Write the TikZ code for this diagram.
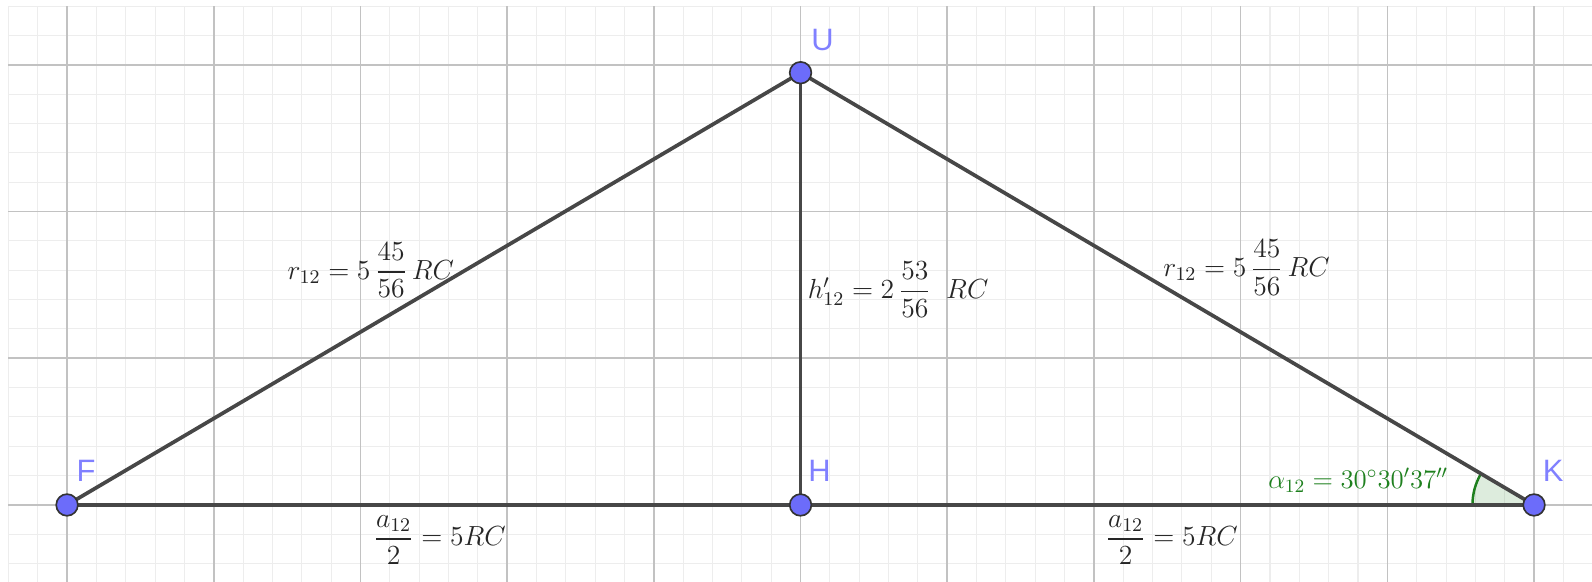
\RequirePackage{fix-cm}
\documentclass[tikz,border=0pt]{standalone}
\usepackage{amsmath}
\usepackage{fontspec}
\setsansfont{Liberation Sans}
\usepackage{tikz}
\usetikzlibrary{calc}

\definecolor{ptblue}{RGB}{108,108,250}
\definecolor{lblblue}{RGB}{128,128,255}
\definecolor{anggreen}{RGB}{30,128,30}

\begin{document}
\begin{tikzpicture}[
  x=2.5cm, y=2.5cm,
  minorgrid/.style={draw=black!7, line width=0.5pt},
  majorgrid/.style={draw=black!24, line width=0.8pt},
  seg/.style={draw=black!72, line width=1.8pt},
  pt/.style={circle, draw=black!80, fill=ptblue, line width=0.8pt,
             minimum size=10.5pt, inner sep=0pt},
  ptlabel/.style={text=lblblue, font=\sffamily\fontsize{15}{15}\selectfont},
  eqlabel/.style={text=black!85, font=\fontsize{13.4}{16}\selectfont},
  anglabel/.style={text=anggreen, font=\fontsize{13}{16}\selectfont}
]
  \useasboundingbox (-0.457,-0.525) rectangle (10.395,3.442);
  % grid
  \draw[minorgrid, step=0.2] (-0.401,-0.525) grid (10.395,3.401);
  \draw[majorgrid, step=1]   (-0.401,-0.525) grid (10.395,3.401);

  \coordinate (F) at (0,0);
  \coordinate (H) at (5,0);
  \coordinate (K) at (10,0);
  \coordinate (U) at (5,2.9464);

  % angle at K
  \fill[anggreen, fill opacity=0.15] (K) -- ++(180:0.42)
    arc[start angle=180, end angle=149.49, radius=0.42] -- cycle;
  \draw[anggreen, line width=1.2pt] ([shift={(180:0.42)}]K)
    arc[start angle=180, end angle=149.49, radius=0.42];

  \draw[seg] (F) -- (K);
  \draw[seg] (F) -- (U);
  \draw[seg] (U) -- (K);
  \draw[seg] (U) -- (H);

  \node[pt] (pF) at (F) {};
  \node[pt] (pH) at (H) {};
  \node[pt] (pK) at (K) {};
  \node[pt] (pU) at (U) {};

  \node[ptlabel] (lF) at (0.13,0.23)  {F};
  \node[ptlabel] (lH) at (5.13,0.23)  {H};
  \node[ptlabel] (lK) at (10.13,0.23) {K};
  \node[ptlabel] (lU) at (5.15,3.17)  {U};

  \node[eqlabel] (rF) at (2.07,1.60) {$r_{12} = 5\,\dfrac{45}{56}\,RC$};
  \node[eqlabel, anchor=west] (hU) at (5.0,1.466) {$h'_{12} = 2\,\dfrac{53}{56}\;\;RC$};
  \node[eqlabel] (rK) at (8.04,1.62) {$r_{12} = 5\,\dfrac{45}{56}\,RC$};
  \node[eqlabel] (aF) at (2.54,-0.24) {$\dfrac{a_{12}}{2} = 5RC$};
  \node[eqlabel] (aK) at (7.53,-0.24) {$\dfrac{a_{12}}{2} = 5RC$};
  \node[anglabel] (alK) at (8.80,0.17) {$\alpha_{12} = 30^\circ30'37''$};
\end{tikzpicture}
\end{document}
